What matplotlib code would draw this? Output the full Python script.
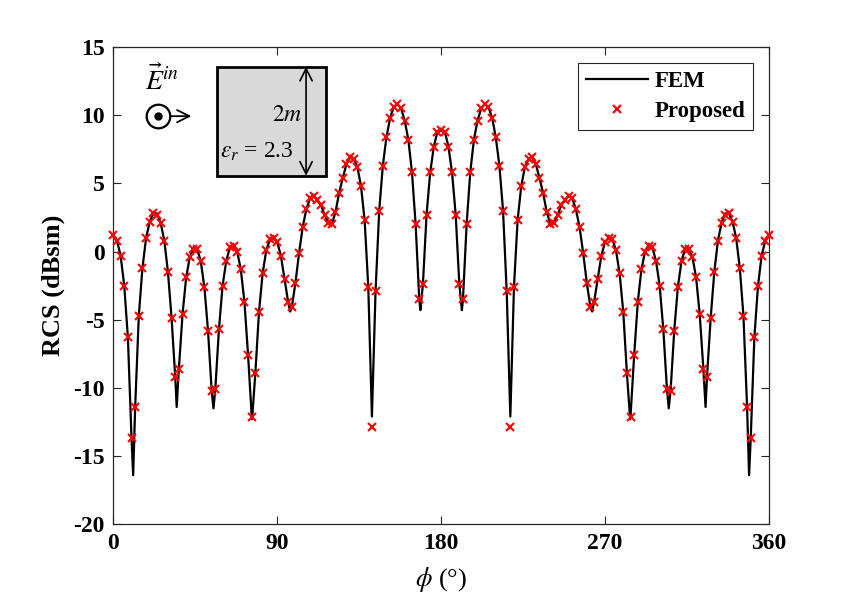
import matplotlib

matplotlib.use("Agg")
import matplotlib.pyplot as plt
import numpy as np

plt.rcParams["font.family"] = ["Liberation Serif", "DejaVu Serif"]
plt.rcParams["mathtext.fontset"] = "stix"
plt.rcParams["axes.unicode_minus"] = False

# Proposed method, sampled every 2 degrees (0..360)
phi_prop = np.arange(0, 362, 2)
rcs_prop = [
    1.2, 0.8, -0.3, -2.5, -6.3, -13.7, -11.4, -4.7, -1.2, 1.0,      # 0-18
    2.2, 2.8, 2.7, 2.1, 0.8, -1.5, -4.9, -9.2, -8.6, -4.6,          # 20-38
    -1.9, -0.4, 0.2, 0.2, -0.7, -2.6, -5.8, -10.2, -10.1, -5.7,     # 40-58
    -2.5, -0.7, 0.3, 0.4, 0.0, -1.3, -3.7, -7.6, -12.1, -8.9,       # 60-78
    -4.4, -1.6, 0.1, 0.9, 1.0, 0.7, -0.3, -2.0, -3.7, -4.1,         # 80-98
    -2.3, -0.1, 1.8, 3.1, 3.9, 4.1, 3.8, 3.4, 2.7, 2.1,             # 100-118
    2.0, 2.9, 4.3, 5.4, 6.4, 6.9, 6.8, 6.2, 4.8, 2.3,               # 120-138
    -2.6, -12.9, -2.9, 3.0, 6.3, 8.4, 9.8, 10.6, 10.8, 10.5,        # 140-158
    9.6, 8.2, 5.8, 2.0, -3.5, -2.4, 2.7, 5.8, 7.7, 8.8,             # 160-178
    8.9,                                                            # 180
    8.8, 7.7, 5.8, 2.7, -2.4, -3.5, 2.0, 5.8, 8.2, 9.6,             # 182-200
    10.5, 10.8, 10.6, 9.8, 8.4, 6.3, 3.0, -2.9, -12.9, -2.6,        # 202-220
    2.3, 4.8, 6.2, 6.8, 6.9, 6.4, 5.4, 4.3, 2.9, 2.0,               # 222-240
    2.1, 2.7, 3.4, 3.8, 4.1, 3.9, 3.1, 1.8, -0.1, -2.3,             # 242-260
    -4.1, -3.7, -2.0, -0.3, 0.7, 1.0, 0.9, 0.1, -1.6, -4.4,         # 262-280
    -8.9, -12.1, -7.6, -3.7, -1.3, 0.0, 0.4, 0.3, -0.7, -2.5,       # 282-300
    -5.7, -10.1, -10.2, -5.8, -2.6, -0.7, 0.2, 0.2, -0.4, -1.9,     # 302-320
    -4.6, -8.6, -9.2, -4.9, -1.5, 0.8, 2.1, 2.7, 2.8, 2.2,          # 322-340
    1.0, -1.2, -4.7, -11.4, -13.7, -6.3, -2.5, -0.3, 0.8, 1.2,      # 342-360
]

# FEM reference curve (null points included)
phi_fem = [
    0, 2, 4, 6, 8, 10, 10.9, 12, 14, 16, 18,
    20, 22, 24, 26, 28, 30, 32, 34, 34.8, 36, 38,
    40, 42, 44, 46, 48, 50, 52, 54, 55.0, 56, 58,
    60, 62, 64, 66, 68, 70, 72, 74, 76, 76.2, 78,
    80, 82, 84, 86, 88, 90, 92, 94, 96, 97.1, 98,
    100, 102, 104, 106, 108, 110, 112, 114, 116, 118,
    120, 122, 124, 126, 128, 130, 132, 134, 136, 138,
    140, 142, 144, 146, 148, 150, 152, 154, 156, 158,
    160, 162, 164, 166, 168, 168.6, 170, 172, 174, 176, 178, 180,
    182, 184, 186, 188, 190, 191.4, 192, 194, 196, 198, 200,
    202, 204, 206, 208, 210, 212, 214, 216, 218, 220,
    222, 224, 226, 228, 230, 232, 234, 236, 238, 240,
    242, 244, 246, 248, 250, 252, 254, 256, 258, 260,
    262, 262.9, 264, 266, 268, 270, 272, 274, 276, 278, 280,
    282, 283.8, 284, 286, 288, 290, 292, 294, 296, 298, 300,
    302, 304, 305.0, 306, 308, 310, 312, 314, 316, 318, 320,
    322, 324, 325.2, 326, 328, 330, 332, 334, 336, 338, 340,
    342, 344, 346, 348, 349.1, 350, 352, 354, 356, 358, 360,
]
rcs_fem = [
    1.2, 0.8, -0.3, -2.5, -6.3, -13.7, -16.4, -11.4, -4.7, -1.2, 1.0,
    2.2, 2.8, 2.8, 2.1, 0.8, -1.5, -4.9, -9.2, -11.4, -8.6, -4.6,
    -1.9, -0.4, 0.2, 0.2, -0.7, -2.6, -5.8, -10.2, -11.5, -10.1, -5.7,
    -2.5, -0.7, 0.3, 0.5, 0.0, -1.3, -3.7, -7.6, -12.1, -12.3, -8.9,
    -4.4, -1.6, 0.1, 0.9, 1.0, 0.7, -0.3, -2.0, -3.7, -4.4, -4.1,
    -2.3, -0.1, 1.8, 3.1, 3.9, 4.1, 3.8, 3.4, 2.7, 2.1,
    2.0, 2.9, 4.3, 5.4, 6.4, 6.9, 6.8, 6.2, 4.8, 2.3,
    -2.6, -12.1, -2.9, 3.0, 6.3, 8.4, 9.8, 10.6, 10.8, 10.5,
    9.6, 8.2, 5.8, 2.0, -3.5, -4.3, -2.4, 2.7, 5.8, 7.7, 8.8, 8.9,
    8.8, 7.7, 5.8, 2.7, -2.4, -4.3, -3.5, 2.0, 5.8, 8.2, 9.6,
    10.5, 10.8, 10.6, 9.8, 8.4, 6.3, 3.0, -2.9, -12.1, -2.6,
    2.3, 4.8, 6.2, 6.8, 6.9, 6.4, 5.4, 4.3, 2.9, 2.0,
    2.1, 2.7, 3.4, 3.8, 4.1, 3.9, 3.1, 1.8, -0.1, -2.3,
    -4.1, -4.4, -3.7, -2.0, -0.3, 0.7, 1.0, 0.9, 0.1, -1.6, -4.4,
    -8.9, -12.3, -12.1, -7.6, -3.7, -1.3, 0.0, 0.5, 0.3, -0.7, -2.5,
    -5.7, -10.1, -11.5, -10.2, -5.8, -2.6, -0.7, 0.2, 0.2, -0.4, -1.9,
    -4.6, -8.6, -11.4, -9.2, -4.9, -1.5, 0.8, 2.1, 2.8, 2.8, 2.2,
    1.0, -1.2, -4.7, -11.4, -16.4, -13.7, -6.3, -2.5, -0.3, 0.8, 1.2,
]

x_ticks = [0, 90, 180, 270, 360]
y_ticks = [-20, -15, -10, -5, 0, 5, 10, 15]

AXIS_COLOR = "#262626"

fig = plt.figure(figsize=(8.52, 6.05), dpi=100)
ax = fig.add_axes([0.133, 0.1334, 0.7695, 0.789])

ax.plot(phi_fem, rcs_fem, color="black", linewidth=1.6, label="FEM", zorder=2)
ax.plot(phi_prop, rcs_prop, linestyle="none", marker="x", color="#ff0000",
        markersize=6, markeredgewidth=1.5, label="Proposed", zorder=3, clip_on=False)

ax.set_xlim(0, 360)
ax.set_ylim(-20, 15)
ax.set_xticks(x_ticks)
ax.set_yticks(y_ticks)
ax.tick_params(direction="in", length=6, width=0.8, top=True, right=True,
               colors=AXIS_COLOR, labelcolor="black", labelsize=17, pad=6)
for lab in ax.get_xticklabels() + ax.get_yticklabels():
    lab.set_fontweight("bold")
for sp in ax.spines.values():
    sp.set_color(AXIS_COLOR)
    sp.set_linewidth(0.9)

ax.set_xlabel(r"$\phi$ (°)", fontsize=19, labelpad=8)
ax.set_ylabel("RCS (dBsm)", fontsize=19, fontweight="bold", labelpad=6)

leg = ax.legend(loc="upper right", bbox_to_anchor=(0.976, 0.967), borderaxespad=0,
                prop={"weight": "bold", "size": 16.5}, handlelength=2.7,
                fancybox=False, framealpha=1, edgecolor=AXIS_COLOR,
                borderpad=0.35, labelspacing=0.4, handletextpad=0.3)
leg.get_frame().set_linewidth(0.8)

# inset sketch of the scatterer
tr = ax.transAxes
ax.add_patch(plt.Rectangle((0.1577, 0.7302), 0.1662, 0.2283, transform=tr,
                           facecolor="#d9d9d9", edgecolor="black", linewidth=2, zorder=4))
ax.annotate("", xy=(0.294, 0.9585), xytext=(0.294, 0.7302), xycoords=tr,
            arrowprops=dict(arrowstyle="<->", color="black", lw=1.2,
                            mutation_scale=22, shrinkA=0, shrinkB=0), zorder=5)
ax.text(0.289, 0.857, r"$2m$", transform=tr, ha="right", va="center",
        fontsize=17, zorder=5)
ax.text(0.163, 0.78, r"$\varepsilon_r$ = 2.3", transform=tr, ha="left",
        va="center", fontsize=17, zorder=5)
ax.plot([0.0687], [0.855], transform=tr, marker="o", markersize=17,
        markerfacecolor="none", markeredgecolor="black", markeredgewidth=1.6,
        clip_on=False, zorder=5)
ax.plot([0.0687], [0.855], transform=tr, marker="o", markersize=5,
        color="black", clip_on=False, zorder=5)
ax.annotate("", xy=(0.119, 0.855), xytext=(0.087, 0.855), xycoords=tr,
            arrowprops=dict(arrowstyle="->", color="black", lw=1.3,
                            mutation_scale=22, shrinkA=0, shrinkB=0), zorder=5)
ax.text(0.075, 0.93, r"$\vec{E}^{in}$", transform=tr, ha="center",
        va="center", fontsize=20, zorder=5)

fig.savefig("out.png", dpi=100, facecolor="white")
